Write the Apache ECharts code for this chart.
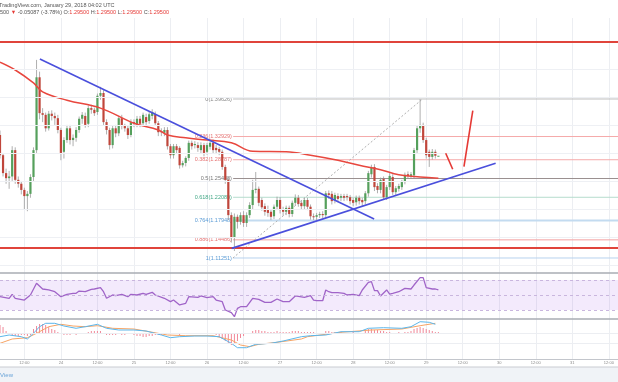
<!DOCTYPE html>
<html><head><meta charset="utf-8">
<script src="https://cdn.jsdelivr.net/npm/echarts@6/dist/echarts.min.js"></script>
<style>html,body{margin:0;padding:0;background:#fff}#c{width:618px;height:382px}</style>
</head><body><div id="c"></div>
<script>
// ---- data ----
const tickLabels = ['12:00','24','12:00','25','12:00','26','12:00','27','12:00','28','12:00','29','12:00','30','12:00','31','12:00'];
// hourly candles from Jan 23 04:00 : [open, close, low, high]
const candles = [
[1.332,1.296,1.290,1.340],[1.296,1.264,1.258,1.300],[1.264,1.255,1.245,1.272],[1.255,1.258,1.236,1.268],
[1.258,1.305,1.250,1.312],[1.305,1.252,1.245,1.310],[1.252,1.245,1.238,1.258],[1.245,1.234,1.226,1.250],
[1.234,1.223,1.200,1.238],[1.223,1.227,1.196,1.232],[1.227,1.257,1.220,1.262],[1.257,1.305,1.250,1.310],
[1.305,1.435,1.300,1.466],[1.435,1.371,1.360,1.445],[1.371,1.368,1.355,1.380],[1.368,1.344,1.338,1.372],
[1.344,1.370,1.340,1.375],[1.370,1.366,1.358,1.376],[1.366,1.362,1.350,1.372],[1.362,1.341,1.335,1.368],
[1.341,1.300,1.287,1.345],[1.302,1.323,1.290,1.328],[1.323,1.344,1.318,1.350],[1.344,1.323,1.315,1.350],
[1.323,1.327,1.312,1.333],[1.327,1.341,1.320,1.346],[1.341,1.361,1.336,1.365],[1.361,1.368,1.352,1.373],
[1.366,1.350,1.345,1.372],[1.352,1.380,1.346,1.385],[1.380,1.377,1.370,1.386],[1.377,1.371,1.366,1.381],
[1.373,1.402,1.368,1.406],[1.402,1.407,1.395,1.418],[1.407,1.355,1.350,1.412],[1.355,1.341,1.333,1.360],
[1.341,1.314,1.306,1.345],[1.314,1.344,1.308,1.348],[1.344,1.335,1.328,1.350],[1.335,1.362,1.330,1.366],
[1.362,1.348,1.342,1.368],[1.348,1.344,1.338,1.352],[1.344,1.332,1.325,1.348],[1.332,1.355,1.328,1.360],
[1.355,1.353,1.346,1.360],[1.351,1.361,1.346,1.366],[1.361,1.352,1.346,1.366],[1.353,1.368,1.348,1.372],
[1.364,1.355,1.350,1.370],[1.357,1.369,1.352,1.374],[1.366,1.373,1.360,1.378],[1.369,1.353,1.348,1.374],
[1.353,1.337,1.330,1.357],[1.339,1.337,1.330,1.344],[1.336,1.341,1.330,1.346],[1.341,1.312,1.306,1.346],
[1.312,1.296,1.290,1.316],[1.296,1.312,1.290,1.316],[1.312,1.305,1.298,1.316],[1.309,1.278,1.272,1.312],
[1.278,1.282,1.274,1.286],[1.282,1.291,1.276,1.294],[1.291,1.318,1.286,1.322],[1.318,1.312,1.306,1.322],
[1.314,1.316,1.308,1.321],[1.314,1.309,1.302,1.319],[1.305,1.314,1.298,1.319],[1.314,1.300,1.294,1.318],
[1.302,1.314,1.297,1.318],[1.311,1.318,1.306,1.323],[1.318,1.305,1.300,1.324],[1.309,1.305,1.298,1.314],
[1.307,1.302,1.296,1.311],[1.302,1.275,1.270,1.306],[1.275,1.252,1.245,1.279],[1.252,1.189,1.180,1.256],
[1.189,1.150,1.140,1.194],[1.150,1.186,1.125,1.192],[1.186,1.177,1.165,1.190],[1.177,1.189,1.172,1.194],
[1.189,1.175,1.168,1.196],[1.175,1.189,1.168,1.194],[1.189,1.207,1.184,1.212],[1.207,1.234,1.200,1.252],
[1.234,1.236,1.228,1.266],[1.236,1.211,1.205,1.240],[1.216,1.203,1.197,1.220],[1.205,1.195,1.188,1.210],
[1.200,1.193,1.186,1.206],[1.195,1.186,1.180,1.200],[1.187,1.204,1.182,1.208],[1.204,1.216,1.198,1.222],
[1.216,1.198,1.192,1.221],[1.200,1.195,1.188,1.204],[1.195,1.202,1.189,1.206],[1.202,1.191,1.185,1.206],
[1.191,1.211,1.186,1.215],[1.211,1.220,1.206,1.226],[1.220,1.209,1.204,1.225],[1.211,1.205,1.199,1.215],
[1.205,1.216,1.200,1.220],[1.216,1.204,1.198,1.220],[1.204,1.187,1.181,1.208],[1.187,1.186,1.180,1.192],
[1.186,1.189,1.180,1.193],[1.189,1.191,1.184,1.195],[1.191,1.189,1.184,1.196],[1.189,1.228,1.184,1.232],
[1.228,1.225,1.218,1.233],[1.227,1.214,1.208,1.232],[1.216,1.225,1.210,1.229],[1.223,1.218,1.212,1.228],
[1.220,1.223,1.214,1.227],[1.223,1.220,1.214,1.227],[1.223,1.221,1.215,1.227],[1.221,1.214,1.208,1.225],
[1.216,1.211,1.205,1.220],[1.212,1.220,1.206,1.224],[1.220,1.214,1.208,1.224],[1.216,1.212,1.205,1.220],
[1.214,1.228,1.208,1.232],[1.228,1.264,1.222,1.268],[1.262,1.275,1.256,1.279],[1.275,1.239,1.232,1.280],
[1.241,1.234,1.228,1.246],[1.234,1.252,1.228,1.256],[1.254,1.221,1.216,1.258],[1.221,1.239,1.216,1.243],
[1.239,1.259,1.234,1.264],[1.257,1.230,1.225,1.262],[1.230,1.237,1.225,1.241],[1.236,1.241,1.231,1.245],
[1.239,1.248,1.234,1.252],[1.248,1.261,1.244,1.265],[1.262,1.259,1.254,1.267],[1.259,1.262,1.255,1.266],
[1.260,1.305,1.255,1.309],[1.305,1.344,1.300,1.348],[1.344,1.350,1.336,1.396],[1.350,1.323,1.318,1.354],
[1.323,1.296,1.290,1.327],[1.302,1.293,1.275,1.306],[1.293,1.302,1.288,1.307],[1.302,1.295,1.290,1.306],
[1.295,1.295,1.295,1.295]
];
const maPoints = [[0,1.462],[5,1.448],[11,1.425],[14,1.409],[22,1.394],[33,1.380],[44,1.353],[52,1.341],[55,1.332],[61,1.327],[68,1.323],[76,1.318],[83,1.303],[94,1.302],[102,1.296],[111,1.287],[118,1.278],[125,1.270],[131,1.261],[138,1.257],[144,1.255]];
const rsiPoints = [[0,47.8],[3,45.6],[4,50.9],[5,45.6],[8,43.3],[10,50],[12,65.6],[14,58],[16,56.7],[18,54.4],[20,47.8],[22,50.9],[24,52.2],[25,52.2],[26,55.3],[28,54.4],[30,57.6],[31,58],[33,59.8],[34,54.4],[35,45.6],[37,50],[38,49.1],[40,50.9],[42,47.8],[43,50.9],[45,50],[47,52.2],[48,50.9],[50,53.6],[51,50],[54,45.6],[56,41.1],[57,43.3],[59,36.7],[61,38.9],[62,47.8],[65,46.9],[66,48.7],[68,46.4],[70,47.8],[71,43.3],[73,41.1],[74,30],[76,26.4],[77,21.1],[78,32.2],[79,34.4],[81,34.4],[83,45.6],[85,44.2],[87,40.2],[89,40.2],[91,44.7],[93,41.1],[95,41.1],[97,48.7],[100,46.9],[102,49.1],[103,43.3],[104,42.4],[106,42.4],[107,56.7],[108,54.4],[109,53.1],[111,53.1],[113,52.2],[114,50],[116,50.9],[118,49.1],[119,56.7],[121,66.9],[122,67.8],[123,55.8],[124,55.8],[125,48.7],[127,56.7],[128,51.3],[129,52.2],[131,54.4],[133,58.9],[135,58],[136,63.3],[138,73.1],[139,73.1],[140,59.8],[142,58],[143,58],[144,56.7]];
const macdPoints = [[0,-0.0037],[3,-0.002],[7,-0.0037],[9,-0.006],[11,-0.0003],[13,0.0063],[15,0.0097],[18,0.0097],[21,0.007],[25,0.0047],[28,0.0063],[32,0.0087],[35,0.0047],[39,0.003],[44,0.003],[48,0.002],[53,-0.002],[56,-0.0047],[59,-0.0037],[64,-0.003],[68,-0.003],[72,-0.0037],[76,-0.0103],[78,-0.0147],[81,-0.0147],[84,-0.0113],[89,-0.0103],[93,-0.008],[99,-0.0037],[102,-0.0027],[107,-0.002],[112,0.0013],[118,0.0013],[121,0.0047],[126,0.0053],[132,0.0047],[135,0.0063],[138,0.0113],[141,0.0107],[143,0.0087]];
const signalPoints = [[0,-0.0103],[4,-0.006],[9,-0.0047],[12,-0.0003],[16,0.0063],[20,0.0087],[24,0.007],[28,0.0063],[32,0.0073],[37,0.0047],[44,0.004],[49,0.0013],[55,-0.002],[61,-0.0027],[70,-0.0027],[76,-0.007],[79,-0.012],[82,-0.0137],[85,-0.0113],[91,-0.0093],[99,-0.006],[101,-0.0037],[112,0.0007],[122,0.003],[132,0.004],[138,0.0073],[143,0.0097]];
const histValues = [
0.008,0.006,0.002,-0.001,-0.002,-0.003,-0.003,-0.002,-0.002,-0.003,-0.002,
0.004,0.007,0.009,0.009,0.008,0.006,0.004,0.003,0.001,
-0.001,-0.002,-0.002,-0.002,-0.001,-0.002,-0.001,-0.001,0,
0.001,0.002,0.002,0.002,0.002,
-0.001,-0.002,-0.002,-0.002,-0.002,-0.001,-0.002,-0.002,-0.001,-0.001,
-0.002,-0.003,-0.003,-0.004,-0.004,-0.003,-0.003,-0.002,
-0.002,-0.002,-0.001,-0.001,-0.001,-0.001,-0.001,-0.002,-0.001,-0.001,0,
0,-0.001,0,0,-0.001,0,0,-0.001,
-0.002,-0.004,-0.006,-0.008,-0.010,-0.012,-0.011,-0.008,-0.005,
-0.003,-0.001,0,
0.002,0.003,0.003,0.002,0.002,0.001,0.001,0.001,0.002,0.001,0.001,0.001,0.001,
0.002,0.002,0.002,0.001,0.001,
0.001,0.001,0.001,0,0,0,0.002,0.002,0.001,0.001,
0,0.001,0,0,0,0.001,0,0,0,
0.002,0.004,0.004,0.003,0.003,0.002,0.002,
0.001,0.001,0,0,0.001,0,0.001,
0.001,0.002,0.004,0.005,0.006,0.005,0.004,
0.003,0.002,0.001,0.001
];
const fibLevels = ['0','0.236','0.382','0.5','0.618','0.764','0.886','1'];
const fibPrices = [1.39626,1.32929,1.28787,1.25438,1.22089,1.17948,1.14486,1.11251];
const fibRange = [76.6, 203];
const fibDiagonal = [[76.5,1.11251],[138.8,1.39626]];
const priceGridLevels = [1.10,1.15,1.20,1.25,1.30,1.35,1.40,1.45];
const resistanceLevels = [1.4980, 1.1304];
const trendLines = [[[13.1,1.4676],[122.9,1.182]], [[76.1,1.1297],[162.8,1.2814]]];
const arrowLines = [[[146.4,1.2994],[148.7,1.2708]], [[152.4,1.2754],[155.3,1.3754]]];

// ---- styles ----
const FONT = '"Liberation Sans", Arial, sans-serif';
const fibLineColors = ['#bdbdbd','#f5aaaa','#f5aaaa','#9a9090','#b5dccd','#c3dbf0','#f3a0a0','#b8d2ee'];
const fibLineWidths = [1,1,1,1,1,2,1,1];
const fibLabelColors = ['#888','#e57373','#e57373','#777','#43a887','#5a9bd5','#e57373','#5a9bd5'];
const UP = '#55a05c', DOWN = '#c0463b', WICK = '#9a9a9a';

const N = 204;
const cats = Array.from({length: N}, (_, i) => String(i));
const isTick = i => i >= 8 && (i - 8) % 12 === 0;

function catAxis(grid, withLabels) {
  return {
    type: 'category', gridIndex: grid, data: cats, boundaryGap: false,
    axisLine: {show: true, onZero: false, lineStyle: {color: grid === 2 ? '#c3c6cc' : '#a9acb3', width: grid === 2 ? 1 : 1.5}},
    axisTick: {show: false},
    axisLabel: withLabels ? {show: true, interval: (i) => isTick(i), formatter: (v, i) => tickLabels[(Number(v) - 8) / 12],
      fontSize: 4, color: '#8a8a8a', margin: 2, fontFamily: FONT} : {show: false},
    splitLine: {show: true, interval: (i) => isTick(i), lineStyle: {color: '#eceef2', width: 1}}
  };
}
const hidY = (grid, min, max) => ({type: 'value', gridIndex: grid, min, max, show: false, splitLine: {show: false}});

function renderCandle(params, api) {
  const i = api.value(0), o = api.value(1), c = api.value(2), l = api.value(3), h = api.value(4);
  const pO = api.coord([i, o]), pC = api.coord([i, c]), pL = api.coord([i, l]), pH = api.coord([i, h]);
  const w = 2.2;
  const top = Math.min(pO[1], pC[1]);
  const hgt = Math.max(Math.abs(pO[1] - pC[1]), 1);
  return {type: 'group', children: [
    {type: 'line', shape: {x1: pL[0], y1: pL[1], x2: pH[0], y2: pH[1]}, style: {stroke: WICK, lineWidth: 0.8}},
    {type: 'rect', shape: {x: pO[0] - w / 2, y: top, width: w, height: hgt}, style: {fill: c >= o ? UP : DOWN}}
  ]};
}

const series = [];
series.push({type: 'line', xAxisIndex: 3, yAxisIndex: 0, data: [], z: 0, silent: true,
  markLine: {silent: true, symbol: 'none', animation: false, label: {show: false},
    lineStyle: {color: '#eef0f4', type: 'solid', width: 1}, data: priceGridLevels.map(v => ({yAxis: v}))}});
fibPrices.forEach((p, k) => {
  series.push({type: 'line', xAxisIndex: 3, yAxisIndex: 0, z: 1, silent: true,
    symbol: 'circle', symbolSize: 0.5, showSymbol: true, itemStyle: {color: fibLineColors[k]},
    lineStyle: {color: fibLineColors[k], width: fibLineWidths[k]},
    data: [{value: [fibRange[0], p], label: {show: true, position: 'left', distance: 1,
      formatter: fibLevels[k] + '(' + p.toFixed(5) + ')', color: fibLabelColors[k], fontSize: 5.5, fontFamily: FONT}},
      [fibRange[1], p]]});
});
series.push({type: 'line', xAxisIndex: 3, yAxisIndex: 0, z: 1, silent: true, symbol: 'none',
  lineStyle: {color: '#b0b0b0', width: 1, type: [2, 2]}, data: fibDiagonal});
resistanceLevels.forEach(p => series.push({type: 'line', xAxisIndex: 3, yAxisIndex: 0, z: 2, silent: true, symbol: 'none',
  lineStyle: {color: '#e0443b', width: 2}, data: [[0, p], [203, p]]}));
series.push({type: 'custom', xAxisIndex: 0, yAxisIndex: 0, z: 3, silent: true, renderItem: renderCandle,
  encode: {x: 0, y: [1, 2, 3, 4]}, data: candles.map((d, i) => [i].concat(d))});
series.push({type: 'line', xAxisIndex: 0, yAxisIndex: 0, z: 4, silent: true, symbol: 'none', smooth: 0.4,
  lineStyle: {color: '#e8473e', width: 1.5}, data: maPoints});
trendLines.forEach(d => series.push({type: 'line', xAxisIndex: 3, yAxisIndex: 0, z: 5, silent: true, symbol: 'none',
  lineStyle: {color: '#4a4fdc', width: 1.6}, data: d}));
arrowLines.forEach(d => series.push({type: 'line', xAxisIndex: 3, yAxisIndex: 0, z: 5, silent: true, symbol: 'none',
  lineStyle: {color: '#e53935', width: 1.6}, data: d}));
// RSI
series.push({type: 'line', xAxisIndex: 1, yAxisIndex: 1, z: 3, silent: true, symbol: 'none',
  lineStyle: {color: '#a064c8', width: 1.3}, data: rsiPoints,
  markArea: {silent: true, itemStyle: {color: 'rgba(160,90,230,0.13)'}, data: [[{yAxis: 70}, {yAxis: 30}]]},
  markLine: {silent: true, symbol: 'none', label: {show: false}, animation: false,
    lineStyle: {color: '#c9b6de', type: [3, 3], width: 1}, data: [{yAxis: 70}, {yAxis: 30}, {yAxis: 50}]}});
// MACD
series.push({type: 'bar', xAxisIndex: 2, yAxisIndex: 2, z: 2, silent: true, barWidth: 1,
  itemStyle: {color: '#f08898'}, data: histValues});
series.push({type: 'line', xAxisIndex: 2, yAxisIndex: 2, z: 3, silent: true, symbol: 'none',
  lineStyle: {color: '#f6a465', width: 1}, data: signalPoints});
series.push({type: 'line', xAxisIndex: 2, yAxisIndex: 2, z: 3, silent: true, symbol: 'none',
  lineStyle: {color: '#5cb6ea', width: 1}, data: macdPoints});
series.push({type: 'line', xAxisIndex: 2, yAxisIndex: 2, data: [], z: 0, silent: true,
  markLine: {silent: true, symbol: 'none', animation: false, label: {show: false},
    lineStyle: {color: '#eceef2', type: 'solid', width: 1}, data: [{yAxis: 0}, {yAxis: -0.015}]}});

const option = {
  animation: false,
  backgroundColor: '#ffffff',
  grid: [
    {left: 0, right: 0, top: 18, height: 255},
    {left: 0, right: 0, top: 273, height: 46},
    {left: 0, right: 0, top: 319, height: 40}
  ],
  xAxis: [catAxis(0, false), catAxis(1, false), catAxis(2, true),
    {type: 'value', gridIndex: 0, min: 0, max: 203, show: false, position: 'top', splitLine: {show: false}}],
  yAxis: [hidY(0, 1.08574, 1.54081), hidY(1, 18, 79.33), hidY(2, -0.026, 0.014)],
  series,
  graphic: [
    {type: 'rect', left: 0, top: 367, z: 10, silent: true, shape: {width: 618, height: 15}, style: {fill: '#f0f3f7'}},
    {type: 'line', z: 11, silent: true, shape: {x1: 0, y1: 367, x2: 618, y2: 367}, style: {stroke: '#c9ccd2', lineWidth: 1}},
    {type: 'text', z: 11, silent: true, x: 13, y: 372, style: {text: 'TradingView', align: 'right', fill: '#6aa4d8', fontSize: 6, fontFamily: FONT}},
    {type: 'text', z: 11, silent: true, x: -1, y: 2, style: {text: 'TradingView.com, January 29, 2018 04:02 UTC', fill: '#555', fontSize: 5.5, fontFamily: FONT}},
    {type: 'text', z: 11, silent: true, x: 0, y: 9.5, style: {
      text: '{d|500 }{r|▼}{d| -0.05087 (-3.78%) O:}{r|1.29500}{d| H:}{r|1.29500}{d| L:}{r|1.29500}{d| C:}{r|1.29500}',
      fontSize: 5.5, fontFamily: FONT,
      rich: {d: {fill: '#555', fontSize: 5.5, fontFamily: FONT}, r: {fill: '#e53935', fontSize: 5.5, fontFamily: FONT}}}}
  ]
};
const chart = echarts.init(document.getElementById('c'));
chart.setOption(option);
</script>
</body></html>
